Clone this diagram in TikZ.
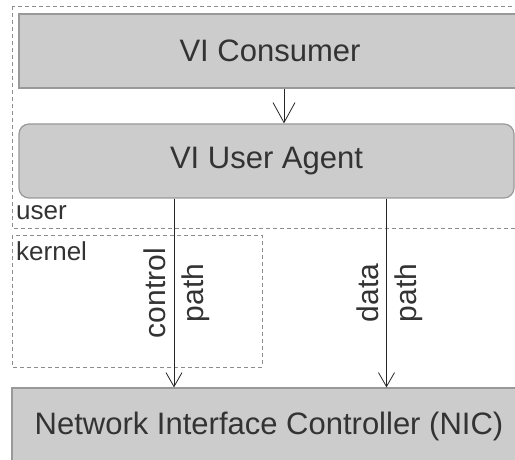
\documentclass[tikz,border=0pt]{standalone}
\usepackage{fontspec}
\setmainfont{Liberation Sans}
\usetikzlibrary{arrows.meta}
\definecolor{boxfill}{HTML}{CCCCCC}
\definecolor{boxline}{HTML}{999999}
\definecolor{txt}{HTML}{333333}
\definecolor{dashc}{HTML}{8C8C8C}
\begin{document}
\begin{tikzpicture}[x=1pt,y=-1pt,
  blk/.style={draw=boxline, fill=boxfill, line width=1.2pt, inner sep=0pt, text=txt, font=\fontsize{31}{37}\selectfont},
  region/.style={draw=dashc, line width=0.9pt, dash pattern=on 4pt off 3pt},
  lbl/.style={text=txt, font=\fontsize{26}{30}\selectfont, inner sep=0pt, anchor=base west},
  pathlbl/.style={text=txt, font=\fontsize{30}{38}\selectfont, rotate=90, align=center, inner sep=0pt},
  arr/.style={draw=black!85, line width=0.8pt}
]
\useasboundingbox (0,0) rectangle (515,460);
\clip (0,0) rectangle (515,460);
% regions
\draw[region] (12,6) rectangle (530,228);
\draw[region] (12,235) rectangle (262,367);
% blocks
\node[blk, minimum width=502pt, minimum height=74pt] (cons) at (270,51) {VI Consumer};
\node[blk, rounded corners=10pt, minimum width=495pt, minimum height=74pt] (agent) at (266.5,161) {VI User Agent};
\node[blk, minimum width=514pt, minimum height=77pt] (nic) at (269,426.5) {Network Interface Controller (NIC)};
% labels
\node[lbl] (user) at (16,219) {user};
\node[lbl] (kernel) at (16,260) {kernel};
\node[pathlbl] (ctrl) at (177,293) {control\\path};
\node[pathlbl] (data) at (390,293) {data\\path};
% connectors
\coordinate (ax) at (284,0);
\coordinate (cx) at (174,0);
\coordinate (dx) at (386.5,0);
\draw[arr, -{Straight Barb[length=20pt,width=22pt]}] (cons.south -| ax) -- (agent.north -| ax);
\draw[arr, -{Straight Barb[length=14pt,width=16pt]}] (agent.south -| cx) -- (nic.north -| cx);
\draw[arr, -{Straight Barb[length=14pt,width=16pt]}] (agent.south -| dx) -- (nic.north -| dx);
\end{tikzpicture}
\end{document}
